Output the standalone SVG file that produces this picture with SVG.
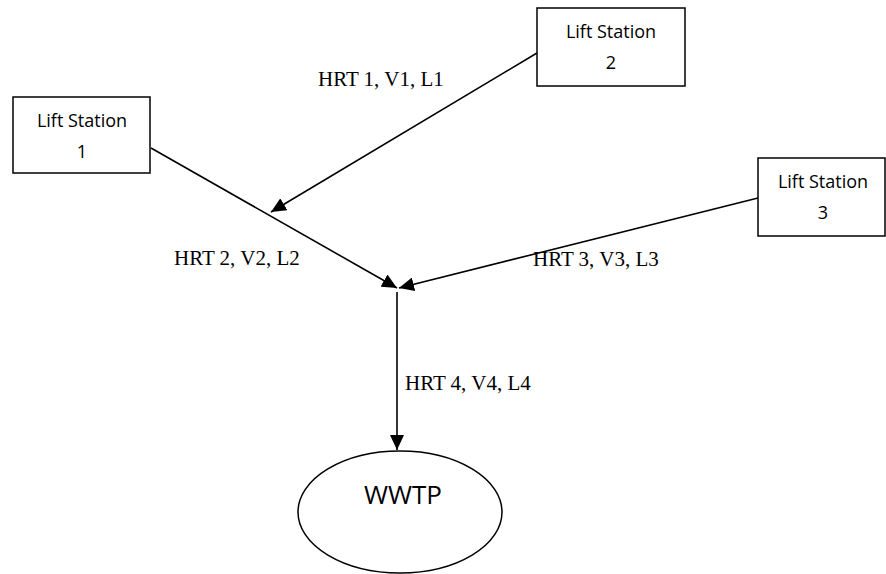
<svg xmlns="http://www.w3.org/2000/svg" width="886" height="574" viewBox="0 0 886 574">
<style>
.box{fill:#fff;stroke:#000;stroke-width:1.5}
.nt{font-family:"Open Sans","Liberation Sans",sans-serif;font-size:18px;text-anchor:middle;fill:#000}
.lb{font-family:"Liberation Serif","Times New Roman",serif;font-size:21px;fill:#000}
.cn{stroke:#000;stroke-width:1.6;fill:none;marker-end:url(#ah)}
</style>
<defs>
<marker id="ah" viewBox="0 0 15 14" refX="15" refY="7" markerWidth="15" markerHeight="14" orient="auto" markerUnits="userSpaceOnUse"><path d="M0,0 L15,7 L0,14 z" fill="#000"/></marker>
</defs>
<rect width="886" height="574" fill="#fff"/>
<g id="connectors">
<line class="cn" x1="537" y1="53" x2="271" y2="212"/>
<line class="cn" x1="151" y1="148" x2="397" y2="288"/>
<line class="cn" x1="758" y1="198" x2="399" y2="288"/>
<line class="cn" x1="397" y1="292" x2="397" y2="450"/>
</g>
<g id="labels">
<text class="lb" x="318" y="86">HRT 1, V1, L1</text>
<text class="lb" x="174" y="265">HRT 2, V2, L2</text>
<text class="lb" x="533" y="266">HRT 3, V3, L3</text>
<text class="lb" x="405" y="390">HRT 4, V4, L4</text>
</g>
<g id="ls1">
<rect class="box" x="13" y="97" width="137" height="76"/>
<text class="nt" x="82" y="127">Lift Station</text>
<text class="nt" x="82" y="158">1</text>
</g>
<g id="ls2">
<rect class="box" x="537" y="8" width="148" height="78"/>
<text class="nt" x="611" y="38">Lift Station</text>
<text class="nt" x="611" y="69">2</text>
</g>
<g id="ls3">
<rect class="box" x="758" y="158" width="127" height="78"/>
<text class="nt" x="823" y="188">Lift Station</text>
<text class="nt" x="823" y="219">3</text>
</g>
<g id="wwtp">
<ellipse cx="400" cy="512" rx="102" ry="61" fill="#fff" stroke="#000" stroke-width="1.5"/>
<text x="403" y="504" font-family="'Open Sans','Liberation Sans',sans-serif" font-size="26" text-anchor="middle" fill="#000">WWTP</text>
</g>
</svg>
